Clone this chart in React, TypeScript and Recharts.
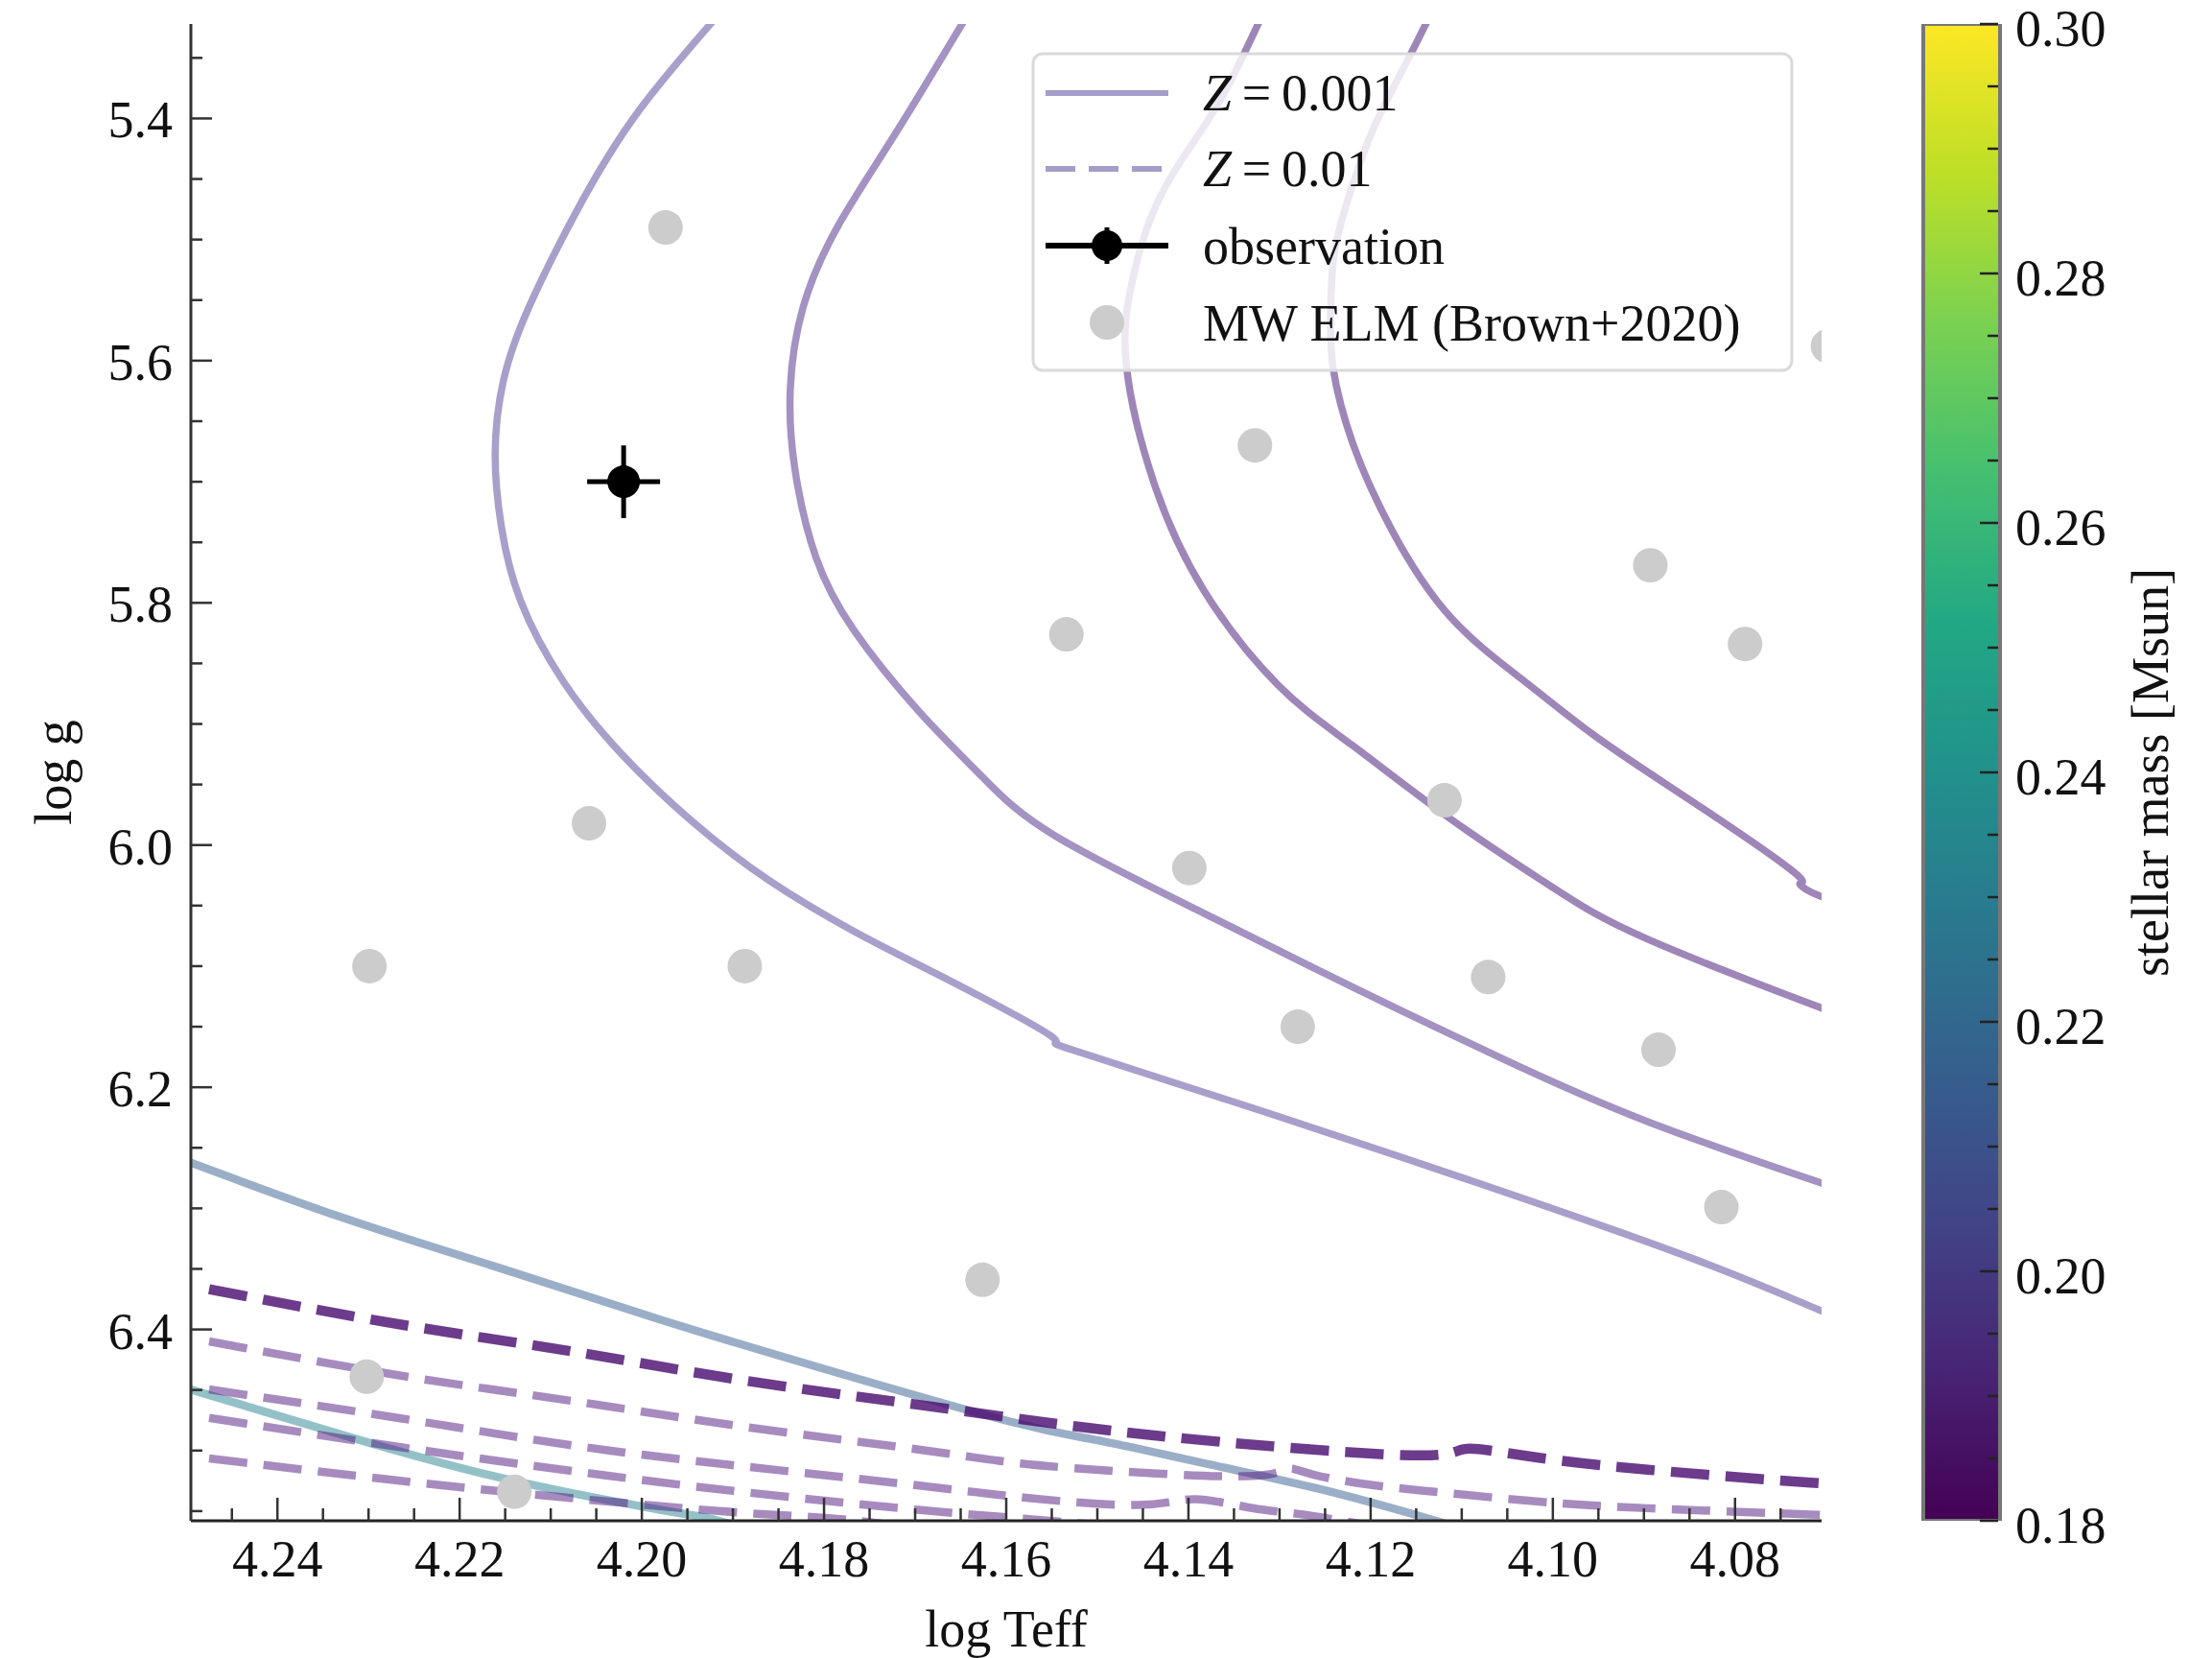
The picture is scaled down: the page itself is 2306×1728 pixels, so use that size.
import React from "react";
import { ComposedChart, Line, Scatter, Bar, XAxis, YAxis, ErrorBar, Legend } from "recharts";

const FONT = '"Liberation Serif", "Times New Roman", serif';

// ---- axis ticks ----
const xMajorTicks = [4.08, 4.1, 4.12, 4.14, 4.16, 4.18, 4.2, 4.22, 4.24];
const xMinorTicks = [4.075, 4.085, 4.09, 4.095, 4.105, 4.11, 4.115, 4.125, 4.13, 4.135, 4.145, 4.15, 4.155, 4.165, 4.17, 4.175, 4.185, 4.19, 4.195, 4.205, 4.21, 4.215, 4.225, 4.23, 4.235, 4.245];
const yMajorTicks = [5.4, 5.6, 5.8, 6.0, 6.2, 6.4];
const yMinorTicks = [5.35, 5.45, 5.5, 5.55, 5.65, 5.7, 5.75, 5.85, 5.9, 5.95, 6.05, 6.1, 6.15, 6.25, 6.3, 6.35, 6.45, 6.5, 6.55];
const massMajorTicks = [0.18, 0.2, 0.22, 0.24, 0.26, 0.28, 0.3];
const massMinorTicks = [0.185, 0.19, 0.195, 0.205, 0.21, 0.215, 0.225, 0.23, 0.235, 0.245, 0.25, 0.255, 0.265, 0.27, 0.275, 0.285, 0.29, 0.295];

// ---- Z = 0.001 tracks (solid) ----
const trackA = [
  { x: 4.1899, g: 5.3 }, { x: 4.2002, g: 5.3924 }, { x: 4.2072, g: 5.4772 }, { x: 4.2124, g: 5.556 },
  { x: 4.2152, g: 5.6167 }, { x: 4.2161, g: 5.6773 }, { x: 4.2154, g: 5.7379 }, { x: 4.2133, g: 5.7985 },
  { x: 4.2086, g: 5.8651 }, { x: 4.2021, g: 5.9258 }, { x: 4.1945, g: 5.9803 }, { x: 4.1861, g: 6.0289 },
  { x: 4.1767, g: 6.0713 }, { x: 4.1673, g: 6.1077 }, { x: 4.1551, g: 6.1576 }, { x: 4.1528, g: 6.169 },
  { x: 4.1311, g: 6.2217 }, { x: 4.1079, g: 6.2799 }, { x: 4.0846, g: 6.3416 },
  { x: 4.0705, g: 6.3847 }, { x: 4.065, g: 6.4 },
];
const trackB = [
  { x: 4.1631, g: 5.3 }, { x: 4.172, g: 5.4106 }, { x: 4.1785, g: 5.4893 }, { x: 4.1823, g: 5.556 },
  { x: 4.1837, g: 5.6227 }, { x: 4.1832, g: 5.6894 }, { x: 4.1809, g: 5.7621 }, { x: 4.1767, g: 5.8228 },
  { x: 4.1696, g: 5.8894 }, { x: 4.1626, g: 5.9439 }, { x: 4.1547, g: 5.9921 }, { x: 4.1383, g: 6.0563 },
  { x: 4.122, g: 6.1172 }, { x: 4.1057, g: 6.1758 }, { x: 4.0894, g: 6.2289 }, { x: 4.0706, g: 6.2788 },
  { x: 4.065, g: 6.293 },
];
const trackC = [
  { x: 4.131, g: 5.3 }, { x: 4.1362, g: 5.3807 }, { x: 4.1407, g: 5.4337 }, { x: 4.1441, g: 5.4813 },
  { x: 4.1463, g: 5.5391 }, { x: 4.1468, g: 5.6048 }, { x: 4.1438, g: 5.7006 }, { x: 4.1383, g: 5.7898 },
  { x: 4.1302, g: 5.8676 }, { x: 4.122, g: 5.9177 }, { x: 4.1112, g: 5.9786 }, { x: 4.1002, g: 6.0341 },
  { x: 4.0894, g: 6.0784 }, { x: 4.0706, g: 6.1343 }, { x: 4.065, g: 6.15 },
];
const trackD = [
  { x: 4.1125, g: 5.3 }, { x: 4.1161, g: 5.3542 }, { x: 4.1196, g: 5.4068 }, { x: 4.1222, g: 5.4599 },
  { x: 4.124, g: 5.5121 }, { x: 4.1244, g: 5.5652 }, { x: 4.1241, g: 5.6072 }, { x: 4.122, g: 5.6674 },
  { x: 4.1177, g: 5.7395 }, { x: 4.1112, g: 5.812 }, { x: 4.1029, g: 5.866 }, { x: 4.0948, g: 5.913 },
  { x: 4.0839, g: 5.968 }, { x: 4.0736, g: 6.022 }, { x: 4.0729, g: 6.032 },
  { x: 4.0705, g: 6.0426 }, { x: 4.065, g: 6.052 },
];
const trackE = [
  { x: 4.252, g: 6.2553 }, { x: 4.233, g: 6.3073 }, { x: 4.2155, g: 6.3495 }, { x: 4.198, g: 6.3918 },
  { x: 4.1805, g: 6.4314 }, { x: 4.1595, g: 6.4762 }, { x: 4.1493, g: 6.4925 }, { x: 4.1376, g: 6.5116 },
  { x: 4.1258, g: 6.5314 }, { x: 4.1141, g: 6.5552 }, { x: 4.1062, g: 6.573 },
];
const trackF = [
  { x: 4.252, g: 6.444 }, { x: 4.233, g: 6.4868 }, { x: 4.2155, g: 6.5225 }, { x: 4.198, g: 6.5489 },
  { x: 4.1922, g: 6.5568 }, { x: 4.1863, g: 6.5695 },
];

// ---- Z = 0.01 tracks (dashed) ----
const dashA = [
  { x: 4.2475, g: 6.3667 }, { x: 4.2266, g: 6.3958 }, { x: 4.2076, g: 6.4182 }, { x: 4.1889, g: 6.442 },
  { x: 4.17, g: 6.4618 }, { x: 4.1522, g: 6.4802 }, { x: 4.1335, g: 6.4948 }, { x: 4.1144, g: 6.504 },
  { x: 4.1094, g: 6.4985 }, { x: 4.1021, g: 6.5053 }, { x: 4.0896, g: 6.5158 }, { x: 4.0717, g: 6.5265 },
  { x: 4.065, g: 6.529 },
];
const dashB = [
  { x: 4.2475, g: 6.4098 }, { x: 4.2266, g: 6.438 }, { x: 4.2076, g: 6.4591 }, { x: 4.1889, g: 6.4802 },
  { x: 4.17, g: 6.4988 }, { x: 4.1584, g: 6.5106 }, { x: 4.1457, g: 6.518 }, { x: 4.1329, g: 6.521 },
  { x: 4.129, g: 6.515 }, { x: 4.1262, g: 6.52 }, { x: 4.1206, g: 6.5277 }, { x: 4.1144, g: 6.533 },
  { x: 4.1021, g: 6.5418 }, { x: 4.0896, g: 6.5476 }, { x: 4.0717, g: 6.5528 }, { x: 4.065, g: 6.555 },
];
const dashC = [
  { x: 4.2475, g: 6.4495 }, { x: 4.2263, g: 6.4736 }, { x: 4.2073, g: 6.4961 }, { x: 4.1887, g: 6.5132 },
  { x: 4.17, g: 6.5285 }, { x: 4.1581, g: 6.5388 }, { x: 4.1455, g: 6.5449 }, { x: 4.1393, g: 6.5402 },
  { x: 4.133, g: 6.5475 }, { x: 4.1274, g: 6.5528 }, { x: 4.121, g: 6.5608 }, { x: 4.115, g: 6.568 },
];
const dashD = [
  { x: 4.2475, g: 6.473 }, { x: 4.2263, g: 6.4974 }, { x: 4.2073, g: 6.5172 }, { x: 4.1887, g: 6.5344 },
  { x: 4.1697, g: 6.5489 }, { x: 4.1595, g: 6.5554 }, { x: 4.1442, g: 6.565 },
];
const dashE = [
  { x: 4.2475, g: 6.5065 }, { x: 4.2263, g: 6.5251 }, { x: 4.2073, g: 6.5396 }, { x: 4.1887, g: 6.5515 },
  { x: 4.1776, g: 6.557 }, { x: 4.1652, g: 6.569 },
];

// ---- MW ELM (Brown+2020) ----
const elmStars = [
  { x: 4.1974, g: 5.49 }, { x: 4.1327, g: 5.67 }, { x: 4.0893, g: 5.769 }, { x: 4.0789, g: 5.834 },
  { x: 4.1534, g: 5.826 }, { x: 4.2058, g: 5.982 }, { x: 4.1119, g: 5.963 }, { x: 4.1399, g: 6.019 },
  { x: 4.2299, g: 6.1 }, { x: 4.1887, g: 6.1 }, { x: 4.1071, g: 6.109 }, { x: 4.128, g: 6.15 },
  { x: 4.0884, g: 6.169 }, { x: 4.0815, g: 6.299 }, { x: 4.1626, g: 6.359 }, { x: 4.2302, g: 6.439 },
  { x: 4.214, g: 6.534 }, { x: 4.0698, g: 5.588 },
];

// ---- observation ----
const observation = [{ x: 4.202, g: 5.7, xErr: 0.004, gErr: 0.03 }];

// ---- colorbar ----
const massRange = [{ c: "mass", m: [0.18, 0.3] }];
const viridisStops = ["#440154", "#482475", "#414487", "#355f8d", "#2a788e", "#21918c", "#22a884", "#44bf70", "#7ad151", "#bddf26", "#fde725"];

const isMajor = (list: number[], v: number) => list.some((t) => Math.abs(t - v) < 1e-6);

const BottomTick = (props: any) => {
  const { x, y, payload } = props;
  const major = isMajor(xMajorTicks, payload.value);
  return (
    <g>
      <line x1={x} y1={y} x2={x} y2={y - (major ? 24 : 13)} stroke="#333" strokeWidth={2.5} />
      {major && (
        <text x={x} y={y + 58} textAnchor="middle" fontSize={54} fontFamily={FONT} fill="#111">
          {payload.value.toFixed(2)}
        </text>
      )}
    </g>
  );
};

const TopTick = (props: any) => {
  const { x, y, payload } = props;
  const major = isMajor(xMajorTicks, payload.value);
  return <line x1={x} y1={y} x2={x} y2={y + (major ? 24 : 13)} stroke="#333" strokeWidth={2.5} />;
};

const LeftTick = (props: any) => {
  const { x, y, payload } = props;
  const major = isMajor(yMajorTicks, payload.value);
  return (
    <g>
      <line x1={x} y1={y} x2={x + (major ? 22 : 12)} y2={y} stroke="#333" strokeWidth={2.5} />
      {major && (
        <text x={x - 19} y={y + 20} textAnchor="end" fontSize={54} fontFamily={FONT} fill="#111">
          {payload.value.toFixed(1)}
        </text>
      )}
    </g>
  );
};

const RightTick = (props: any) => {
  const { x, y, payload } = props;
  const major = isMajor(yMajorTicks, payload.value);
  return <line x1={x} y1={y} x2={x - (major ? 22 : 12)} y2={y} stroke="#333" strokeWidth={2.5} />;
};

const ColorbarTick = (props: any) => {
  const { x, y, payload } = props;
  const major = isMajor(massMajorTicks, payload.value);
  return (
    <g>
      <line x1={x - 2} y1={y} x2={x - (major ? 21 : 13)} y2={y} stroke="#222" strokeWidth={2.5} />
      {major && (
        <text x={x + 16} y={y + 23} textAnchor="start" fontSize={54} fontFamily={FONT} fill="#111">
          {payload.value.toFixed(2)}
        </text>
      )}
    </g>
  );
};

const LegendBox = () => (
  <svg width={795} height={334} style={{ display: "block", overflow: "visible" }}>
    <rect x={2} y={2} width={791} height={330} rx={10} fill="#fff" fillOpacity={0.8} stroke="#dadada" strokeWidth={3} />
    {/* Z = 0.001 */}
    <line x1={15} y1={43} x2={143} y2={43} stroke="#a59dca" strokeWidth={6} />
    <text x={179} y={61} fontSize={54} fontFamily={FONT} fill="#111">
      <tspan fontStyle="italic">Z</tspan>
      <tspan>{"\u2009=\u20090.001"}</tspan>
    </text>
    {/* Z = 0.01 */}
    <line x1={15} y1={122} x2={143} y2={122} stroke="#a59dca" strokeWidth={6} strokeDasharray="31 14" />
    <text x={179} y={140} fontSize={54} fontFamily={FONT} fill="#111">
      <tspan fontStyle="italic">Z</tspan>
      <tspan>{"\u2009=\u20090.01"}</tspan>
    </text>
    {/* observation */}
    <line x1={15} y1={202} x2={143} y2={202} stroke="#000" strokeWidth={6} />
    <line x1={79} y1={183} x2={79} y2={221} stroke="#000" strokeWidth={5} />
    <circle cx={79} cy={202} r={16} fill="#000" />
    <text x={179} y={221} fontSize={54} fontFamily={FONT} fill="#111">observation</text>
    {/* MW ELM */}
    <circle cx={79} cy={282} r={18} fill="#cccccc" />
    <text x={179} y={301} fontSize={54} fontFamily={FONT} fill="#111">MW ELM (Brown+2020)</text>
  </svg>
);

const solid = (data: any[], color: string, key: string, width = 7.5) => (
  <Line
    key={key}
    data={data}
    dataKey="g"
    type="natural"
    stroke={color}
    strokeWidth={width}
    strokeOpacity={0.5}
    dot={false}
    activeDot={false}
    legendType="none"
    isAnimationActive={false}
  />
);

const dashed = (data: any[], color: string, key: string, width: number, opacity: number) => (
  <Line
    key={key}
    data={data}
    dataKey="g"
    type="natural"
    stroke={color}
    strokeWidth={width}
    strokeOpacity={opacity}
    strokeDasharray="40 17"
    dot={false}
    activeDot={false}
    legendType="none"
    isAnimationActive={false}
  />
);

export default function App() {
  return (
    <div style={{ position: "absolute", left: 0, top: 0, width: 2306, height: 1728, background: "#fff", fontFamily: FONT }}>
      <div style={{ position: "absolute", left: 0, top: 0 }}>
        <ComposedChart width={1950} height={1728} margin={{ top: 25, right: 51, bottom: 0, left: 0 }}>
          <XAxis
            type="number"
            dataKey="x"
            domain={[4.0705, 4.2495]}
            reversed
            allowDataOverflow
            ticks={[...xMajorTicks, ...xMinorTicks]}
            interval={0}
            height={143}
            tickSize={0}
            tickMargin={0}
            tickLine={false}
            tick={<BottomTick />}
            axisLine={{ stroke: "#222", strokeWidth: 3 }}
            label={(p: any) => (
              <text x={p.viewBox.x + p.viewBox.width / 2} y={p.viewBox.y + 131} textAnchor="middle" fontSize={54} fontFamily={FONT} fill="#111">
                log Teff
              </text>
            )}
          />
          <XAxis
            xAxisId="top"
            orientation="top"
            type="number"
            domain={[4.0705, 4.2495]}
            reversed
            allowDataOverflow
            ticks={[...xMajorTicks, ...xMinorTicks]}
            interval={0}
            height={0}
            tickSize={0}
            tickMargin={0}
            tickLine={false}
            tick={<TopTick />}
            axisLine={{ stroke: "#333", strokeWidth: 3 }}
          />
          <YAxis
            type="number"
            domain={[5.322, 6.558]}
            reversed
            allowDataOverflow
            ticks={[...yMajorTicks, ...yMinorTicks]}
            interval={0}
            width={199}
            tickSize={0}
            tickMargin={0}
            tickLine={false}
            tick={<LeftTick />}
            axisLine={{ stroke: "#333", strokeWidth: 3 }}
            label={(p: any) => (
              <text
                x={74}
                y={p.viewBox.y + p.viewBox.height / 2}
                transform={`rotate(-90 74 ${p.viewBox.y + p.viewBox.height / 2})`}
                textAnchor="middle"
                fontSize={54}
                fontFamily={FONT}
                fill="#111"
              >
                log g
              </text>
            )}
          />
          <YAxis
            yAxisId="right"
            orientation="right"
            type="number"
            domain={[5.322, 6.558]}
            reversed
            allowDataOverflow
            ticks={[...yMajorTicks, ...yMinorTicks]}
            interval={0}
            width={0}
            tickSize={0}
            tickMargin={0}
            tickLine={false}
            tick={<RightTick />}
            axisLine={{ stroke: "#222", strokeWidth: 3 }}
          />

          <Scatter data={elmStars} dataKey="g" fill="#cccccc" legendType="none" isAnimationActive={false}
            shape={(p: any) => <circle cx={p.cx} cy={p.cy} r={18} fill="#cccccc" />} />

          {solid(trackA, "#533f97", "a")}
          {solid(trackB, "#472585", "b")}
          {solid(trackC, "#3d0d73", "c")}
          {solid(trackD, "#3d0d73", "d")}
          {solid(trackE, "#355d8f", "e", 8.5)}
          {solid(trackF, "#27838f", "f", 8.5)}

          {dashed(dashA, "#480a6e", "da", 10.5, 0.8)}
          {dashed(dashB, "#4f177f", "db", 8.5, 0.5)}
          {dashed(dashC, "#4f177f", "dc", 8.5, 0.5)}
          {dashed(dashD, "#4f177f", "dd", 8.5, 0.5)}
          {dashed(dashE, "#4f177f", "de", 8.5, 0.5)}

          <Scatter data={observation} dataKey="g" fill="#000" legendType="none" isAnimationActive={false}
            shape={(p: any) => <circle cx={p.cx} cy={p.cy} r={17} fill="#000" />}>
            <ErrorBar dataKey="gErr" direction="y" width={0} stroke="#000" strokeWidth={5} />
            <ErrorBar dataKey="xErr" direction="x" width={0} stroke="#000" strokeWidth={5} />
          </Scatter>

          <Legend
            layout="vertical"
            align="center"
            verticalAlign="middle"
            content={() => <LegendBox />}
            wrapperStyle={{ left: 1075, top: 54, width: 795, height: 334, margin: 0, padding: 0 }}
          />
        </ComposedChart>
      </div>

      <div style={{ position: "absolute", left: 1950, top: 0 }}>
        <ComposedChart
          width={356}
          height={1728}
          data={massRange}
          barCategoryGap={0}
          barGap={0}
          margin={{ top: 25, right: 0, bottom: 143, left: 55 }}
        >
          <defs>
            <linearGradient id="viridis" x1="0" y1="1" x2="0" y2="0">
              {viridisStops.map((c, i) => (
                <stop key={c} offset={`${i * 10}%`} stopColor={c} />
              ))}
            </linearGradient>
          </defs>
          <XAxis type="category" dataKey="c" hide />
          <Bar dataKey="m" fill="url(#viridis)" stroke="#777" strokeWidth={4} legendType="none" isAnimationActive={false} />
          <YAxis
            orientation="right"
            type="number"
            domain={[0.18, 0.3]}
            allowDataOverflow
            ticks={[...massMajorTicks, ...massMinorTicks]}
            interval={0}
            width={221}
            tickSize={0}
            tickMargin={0}
            tickLine={false}
            axisLine={false}
            tick={<ColorbarTick />}
            label={(p: any) => (
              <text
                x={p.viewBox.x + 175}
                y={p.viewBox.y + p.viewBox.height / 2}
                transform={`rotate(-90 ${p.viewBox.x + 175} ${p.viewBox.y + p.viewBox.height / 2})`}
                textAnchor="middle"
                fontSize={54}
                fontFamily={FONT}
                fill="#111"
              >
                stellar mass [Msun]
              </text>
            )}
          />
        </ComposedChart>
      </div>
    </div>
  );
}
